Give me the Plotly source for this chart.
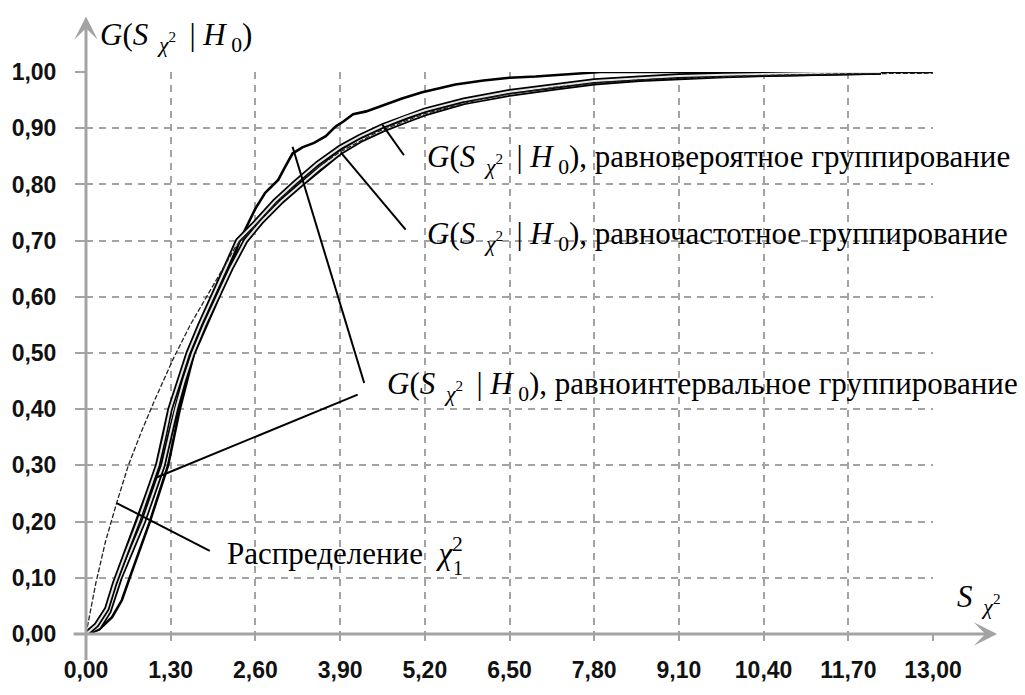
import plotly.graph_objects as go

# ---------------- data ----------------
x_tick_vals = [0.0, 1.3, 2.6, 3.9, 5.2, 6.5, 7.8, 9.1, 10.4, 11.7, 13.0]
x_tick_text = ["0,00", "1,30", "2,60", "3,90", "5,20", "6,50", "7,80", "9,10", "10,40", "11,70", "13,00"]
y_tick_vals = [0.0, 0.1, 0.2, 0.3, 0.4, 0.5, 0.6, 0.7, 0.8, 0.9, 1.0]
y_tick_text = ["0,00", "0,10", "0,20", "0,30", "0,40", "0,50", "0,60", "0,70", "0,80", "0,90", "1,00"]

# theoretical distribution (thin line)
chi2_x = [0, 0.15, 0.3, 0.47, 0.65, 0.85, 1.05, 1.34, 1.6, 1.85, 2.1, 2.3, 2.6, 3.0, 3.5, 3.9,
          4.5, 5.2, 6.0, 6.5, 7.2, 7.8, 8.5, 9.1, 10.4, 11.7, 13.0]
chi2_y = [0, 0.09, 0.165, 0.233, 0.30, 0.36, 0.415, 0.49, 0.55, 0.60, 0.65, 0.69, 0.727, 0.777,
          0.826, 0.858, 0.895, 0.926, 0.95, 0.961, 0.973, 0.98, 0.986, 0.989, 0.994, 0.997, 0.998]

# G(S|H0), equiprobable grouping
eqprob_x = [0, 0.16, 0.32, 0.44, 0.6, 0.8, 0.95, 1.1, 1.2, 1.29, 1.43, 1.57, 1.75, 1.95, 2.14,
            2.33, 2.6, 2.9, 3.2, 3.55, 3.9, 4.2, 4.55, 4.9, 5.2, 5.8, 6.5, 7.2, 7.8, 8.5, 9.1,
            9.8, 10.4, 11.0, 11.7, 12.2]
eqprob_y = [0, 0.016, 0.045, 0.09, 0.14, 0.2, 0.25, 0.3, 0.35, 0.4, 0.45, 0.5, 0.55, 0.6, 0.65,
            0.7, 0.732, 0.77, 0.802, 0.837, 0.866, 0.885, 0.904, 0.92, 0.932, 0.95, 0.965, 0.975,
            0.984, 0.989, 0.993, 0.995, 0.997, 0.998, 0.999, 1.0]

# G(S|H0), equifrequency grouping
eqfreq_x = [0, 0.2, 0.35, 0.52, 0.7, 0.88, 1.03, 1.18, 1.28, 1.38, 1.5, 1.64, 1.82, 2.02, 2.22,
            2.45, 2.7, 3.0, 3.3, 3.6, 3.9, 4.2, 4.55, 4.9, 5.2, 5.8, 6.5, 7.2, 7.8, 8.5, 9.1,
            9.8, 10.4, 11.0, 11.7, 12.2]
eqfreq_y = [0, 0.012, 0.04, 0.1, 0.15, 0.2, 0.25, 0.3, 0.35, 0.4, 0.45, 0.5, 0.55, 0.6, 0.65,
            0.7, 0.735, 0.77, 0.8, 0.83, 0.857, 0.878, 0.897, 0.913, 0.926, 0.946, 0.961, 0.972,
            0.981, 0.987, 0.991, 0.994, 0.996, 0.998, 0.999, 1.0]

# G(S|H0), equal-interval grouping
eqint_x = [0, 0.2, 0.4, 0.55, 0.67, 0.83, 0.98, 1.12, 1.26, 1.35, 1.44, 1.55, 1.66, 1.84, 2.02,
           2.2, 2.36, 2.5, 2.6, 2.75, 2.95, 3.05, 3.17, 3.32, 3.5, 3.68, 3.83, 3.95, 4.1, 4.3,
           4.55, 4.85, 5.16, 5.4, 5.67, 6.1, 6.5, 6.9, 7.25, 7.6, 7.9, 13.0]
eqint_y = [0, 0.008, 0.03, 0.06, 0.1, 0.15, 0.2, 0.25, 0.3, 0.35, 0.4, 0.45, 0.5, 0.55, 0.6,
           0.65, 0.7, 0.735, 0.757, 0.785, 0.808, 0.83, 0.855, 0.866, 0.874, 0.886, 0.903, 0.912,
           0.925, 0.93, 0.941, 0.953, 0.964, 0.97, 0.978, 0.985, 0.99, 0.992, 0.995, 0.997, 1.0, 1.0]

# ---------------- figure ----------------
fig = go.Figure()

fig.add_trace(go.Scatter(x=eqint_x, y=eqint_y, mode="lines",
                         line=dict(color="black", width=2.6), hoverinfo="skip"))
for xs, ys in ((eqfreq_x, eqfreq_y), (eqprob_x, eqprob_y)):
    fig.add_trace(go.Scatter(x=xs, y=ys, mode="lines",
                             line=dict(color="black", width=5.5), hoverinfo="skip"))
    fig.add_trace(go.Scatter(x=xs, y=ys, mode="lines",
                             line=dict(color="#e6e6e6", width=2), hoverinfo="skip"))
fig.add_trace(go.Scatter(x=chi2_x, y=chi2_y, mode="lines",
                         line=dict(color="#222222", width=1.3, dash="5px,2px"), hoverinfo="skip"))

GRID = "#a3a3a3"
tickfont = dict(family="Liberation Sans, Arial", size=23, color="#111111", weight="bold")

fig.update_xaxes(range=[0, 13.0001], tickmode="array", tickvals=x_tick_vals, ticktext=x_tick_text,
                 showgrid=True, gridcolor=GRID, gridwidth=2, griddash="7px,6px",
                 zeroline=False, showline=False, ticks="outside", ticklen=6, tickwidth=2,
                 tickcolor=GRID, tickfont=tickfont, ticklabelstandoff=9)
fig.update_yaxes(range=[0, 1.0001], tickmode="array", tickvals=y_tick_vals, ticktext=y_tick_text,
                 showgrid=True, gridcolor=GRID, gridwidth=2, griddash="7px,6px",
                 zeroline=False, showline=False, ticks="outside", ticklen=10, tickwidth=2,
                 tickcolor=GRID, tickfont=tickfont, ticklabelstandoff=14)

# pointer lines
ptr = dict(color="black", width=2)
pointers = [((4.55, 0.906), (4.88, 0.852)),
            ((3.91, 0.857), (4.906, 0.7195)),
            ((3.17, 0.867), (4.27, 0.4466)),
            ((4.17, 0.426), (1.09, 0.279)),
            ((1.90, 0.148), (0.47, 0.233))]
for (x0, y0), (x1, y1) in pointers:
    fig.add_shape(type="line", xref="x", yref="y", x0=x0, y0=y0, x1=x1, y1=y1, line=ptr)

serif = "Liberation Serif, Times New Roman, serif"
G = "<i>G</i>(<i>S</i><sub>  <i>χ</i><sup>2</sup> </sub> | <i>H</i><sub> 0</sub>)"
lab_font = dict(family=serif, size=31, color="black")
annots = [
    (5.21, 0.8453, G + ", равновероятное группирование"),
    (5.21, 0.7074, G + ", равночастотное группирование"),
    (4.595, 0.4419, G + ", равноинтервальное группирование"),
    (2.13, 0.147, "Распределение  <i>χ</i><sup>2</sup>"),
]
for x, y, t in annots:
    fig.add_annotation(x=x, y=y, xref="x", yref="y", text=t, showarrow=False,
                       xanchor="left", yanchor="middle", font=lab_font)
fig.add_annotation(x=5.6, y=0.118, xref="x", yref="y", text="1", showarrow=False,
                   xanchor="left", yanchor="middle", font=dict(family=serif, size=20, color="black"))

# axis titles
fig.add_annotation(x=0.014, y=1.0631, xref="paper", yref="paper", text=G, showarrow=False,
                   xanchor="left", yanchor="middle", font=lab_font)
fig.add_annotation(x=1.026, y=0.0626, xref="paper", yref="paper",
                   text="<i>S</i><sub>  <i>χ</i><sup>2</sup></sub>", showarrow=False,
                   xanchor="left", yanchor="middle", font=lab_font)

# axis arrows
fig.add_annotation(x=1.0757, y=0, xref="paper", yref="paper", ax=-925, ay=0,
                   showarrow=True, arrowhead=3, arrowsize=1.3, arrowwidth=3, arrowcolor=GRID,
                   text="")
fig.add_annotation(x=0, y=1.0988, xref="paper", yref="paper", ax=0, ay=645,
                   showarrow=True, arrowhead=3, arrowsize=1.3, arrowwidth=3, arrowcolor=GRID,
                   text="")

fig.update_layout(width=1025, height=695, margin=dict(l=83, r=92, t=72, b=43),
                  paper_bgcolor="white", plot_bgcolor="white", showlegend=False)

fig.write_html("out.html")
